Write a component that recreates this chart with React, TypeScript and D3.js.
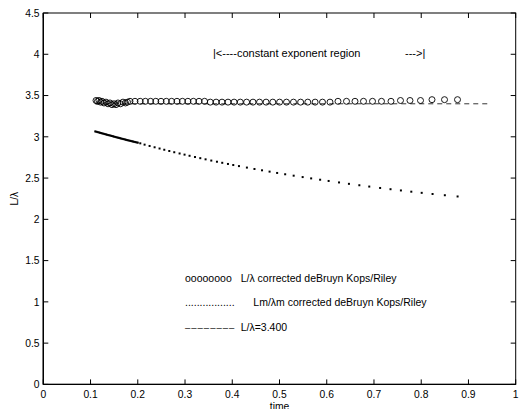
import React from "react";
import * as d3 from "d3";

const circleTimes = [
  0.1116, 0.1147, 0.1179, 0.1211, 0.1243, 0.1285, 0.1327, 0.137, 0.1412, 0.1454, 0.1497, 0.1539,
  0.1581, 0.1634, 0.1687, 0.174, 0.1782, 0.1835, 0.1941, 0.2051, 0.2161, 0.2271, 0.2381, 0.2492,
  0.2604, 0.2716, 0.283, 0.2945, 0.3061, 0.3177, 0.3296, 0.3414, 0.3535, 0.3658, 0.3783, 0.391,
  0.4039, 0.417, 0.4304, 0.4439, 0.4577, 0.4716, 0.4858, 0.5002, 0.5148, 0.5296, 0.5447, 0.5599,
  0.5754, 0.591, 0.6069, 0.6238, 0.6418, 0.6598, 0.6778, 0.6969, 0.7159, 0.736, 0.7561, 0.7762,
  0.7985, 0.8228, 0.8493, 0.8768,
];
const circleValues = [
  3.44, 3.43, 3.44, 3.42, 3.43, 3.41, 3.42, 3.4, 3.41, 3.39, 3.4, 3.39,
  3.41, 3.4, 3.42, 3.41, 3.42, 3.43, 3.43, 3.43, 3.43, 3.43, 3.43, 3.43,
  3.43, 3.43, 3.43, 3.43, 3.43, 3.43, 3.43, 3.43, 3.42, 3.42, 3.42, 3.42,
  3.42, 3.42, 3.42, 3.42, 3.42, 3.42, 3.42, 3.42, 3.42, 3.42, 3.42, 3.42,
  3.42, 3.42, 3.42, 3.43, 3.43, 3.43, 3.43, 3.43, 3.43, 3.43, 3.44, 3.44,
  3.44, 3.45, 3.45, 3.45,
];

const dotTimes = [
  0.11, 0.1125, 0.115, 0.1175, 0.12, 0.1225, 0.125, 0.1275, 0.13, 0.1325, 0.135, 0.1375,
  0.14, 0.1425, 0.145, 0.1475, 0.15, 0.1525, 0.155, 0.1575, 0.16, 0.1625, 0.165, 0.1675,
  0.17, 0.1725, 0.175, 0.1775, 0.18, 0.1825, 0.185, 0.1875, 0.19, 0.1925, 0.195, 0.1975,
  0.2, 0.2053, 0.2144, 0.225, 0.2356, 0.2461, 0.2561, 0.2667, 0.2772, 0.2885, 0.299, 0.3096,
  0.3211, 0.3323, 0.3435, 0.3556, 0.3676, 0.3788, 0.3909, 0.4021, 0.4142, 0.431, 0.447, 0.463,
  0.479, 0.495, 0.512, 0.53, 0.549, 0.567, 0.586, 0.604, 0.626, 0.647, 0.669, 0.69,
  0.713, 0.735, 0.757, 0.779, 0.801, 0.824, 0.85, 0.877,
];
const dotValues = [
  3.065, 3.061, 3.057, 3.053, 3.049, 3.045, 3.041, 3.037, 3.033, 3.029, 3.025, 3.021,
  3.018, 3.014, 3.01, 3.006, 3.002, 2.998, 2.994, 2.99, 2.987, 2.983, 2.979, 2.975,
  2.972, 2.968, 2.964, 2.96, 2.957, 2.953, 2.95, 2.946, 2.943, 2.939, 2.936, 2.932,
  2.929, 2.921, 2.905, 2.889, 2.873, 2.858, 2.843, 2.828, 2.813, 2.798, 2.784, 2.77,
  2.755, 2.741, 2.727, 2.712, 2.698, 2.685, 2.671, 2.658, 2.645, 2.627, 2.61, 2.594,
  2.578, 2.562, 2.546, 2.529, 2.512, 2.496, 2.48, 2.465, 2.447, 2.43, 2.413, 2.397,
  2.38, 2.365, 2.35, 2.335, 2.321, 2.307, 2.292, 2.277,
];

const constTimes = [0.11, 0.946];
const constValue = 3.4;

const xTicks = [0, 0.1, 0.2, 0.3, 0.4, 0.5, 0.6, 0.7, 0.8, 0.9, 1];
const xTickLabels = ["0", "0.1", "0.2", "0.3", "0.4", "0.5", "0.6", "0.7", "0.8", "0.9", "1"];
const yTicks = [0, 0.5, 1, 1.5, 2, 2.5, 3, 3.5, 4, 4.5];
const yTickLabels = ["0", "0.5", "1", "1.5", "2", "2.5", "3", "3.5", "4", "4.5"];

const FONT = "'Liberation Sans', Arial, Helvetica, sans-serif";

export default function App() {
  const L = 43.3, R = 515.7, T = 13, B = 384.4;
  const x = d3.scaleLinear().domain([0, 1]).range([L, R]);
  const y = d3.scaleLinear().domain([0, 4.5]).range([B, T]);
  const tl = 5;
  const constLine = d3.line<number>().x((d) => x(d)).y(() => y(constValue));

  return (
    <svg
      width={521}
      height={409}
      style={{ position: "fixed", left: 0, top: 0, background: "#fff" }}
      fontFamily={FONT}
    >
      <rect x={0} y={0} width={521} height={409} fill="#fff" />
      <rect x={L} y={T} width={R - L} height={B - T} fill="none" stroke="#000" strokeWidth={1} />
      <line x1={L} x2={L} y1={T} y2={B} stroke="#000" strokeWidth={1.4} />
      <line x1={L} x2={R} y1={B} y2={B} stroke="#000" strokeWidth={1.4} />
      {xTicks.map((t, i) => (
        <g key={"xt" + i}>
          <line x1={x(t)} x2={x(t)} y1={B} y2={B - tl} stroke="#000" strokeWidth={1} />
          <line x1={x(t)} x2={x(t)} y1={T} y2={T + tl} stroke="#000" strokeWidth={1} />
          <text x={x(t)} y={398} fontSize={10.3} textAnchor="middle" fill="#000">
            {xTickLabels[i]}
          </text>
        </g>
      ))}
      {yTicks.map((t, i) => (
        <g key={"yt" + i}>
          <line x1={L} x2={L + tl} y1={y(t)} y2={y(t)} stroke="#000" strokeWidth={1} />
          <line x1={R} x2={R - tl} y1={y(t)} y2={y(t)} stroke="#000" strokeWidth={1} />
          <text x={39.5} y={y(t) + 3.7} fontSize={10.3} textAnchor="end" fill="#000">
            {yTickLabels[i]}
          </text>
        </g>
      ))}
      <text x={279.5} y={410} fontSize={10.3} textAnchor="middle" fill="#000">time</text>
      <text
        transform={`translate(17.5, 198.7) rotate(-90)`}
        fontSize={10.3}
        textAnchor="middle"
        fill="#000"
      >
        L/λ
      </text>

      <path
        d={constLine(constTimes) || ""}
        fill="none"
        stroke="#000"
        strokeWidth={0.8}
        strokeDasharray="5,4"
      />
      {circleTimes.map((t, i) => (
        <circle
          key={"c" + i}
          cx={x(t)}
          cy={y(circleValues[i])}
          r={3}
          fill="none"
          stroke="#000"
          strokeWidth={0.9}
        />
      ))}
      {dotTimes.map((t, i) => (
        <rect
          key={"d" + i}
          x={x(t) - 1}
          y={y(dotValues[i]) - 1}
          width={2}
          height={2}
          fill="#000"
        />
      ))}

      <text x={213} y={57} fontSize={11} fill="#000">|&lt;----constant exponent region</text>
      <text x={405} y={57} fontSize={11} fill="#000">---&gt;|</text>

      <text x={185} y={281.8} fontSize={10.5} fill="#000">oooooooo</text>
      <text x={240.7} y={281.8} fontSize={10.5} fill="#000">L/λ corrected deBruyn Kops/Riley</text>
      <text x={185} y={306.3} fontSize={10.5} fill="#000">.................</text>
      <text x={253.3} y={306.3} fontSize={10.5} fill="#000">Lm/λm corrected deBruyn Kops/Riley</text>
      <text x={185} y={330.8} fontSize={9.5} letterSpacing={1} fill="#000">––––––––</text>
      <text x={240.7} y={330.8} fontSize={10.5} fill="#000">L/λ=3.400</text>
    </svg>
  );
}
